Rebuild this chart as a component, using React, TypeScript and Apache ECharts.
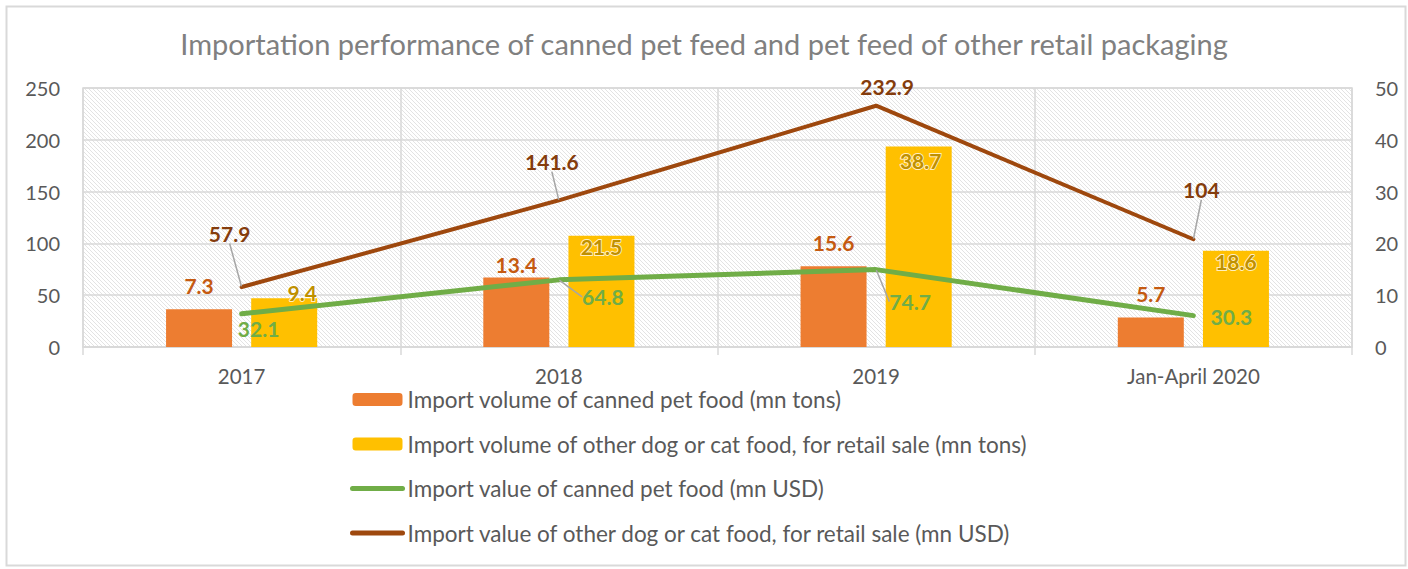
import React, { useEffect, useRef } from "react";
import * as echarts from "echarts";

const categories = ["2017", "2018", "2019", "Jan-April 2020"];
const cannedVolume = [7.3, 13.4, 15.6, 5.7];
const otherVolume = [9.4, 21.5, 38.7, 18.6];
const cannedValue = [32.1, 64.8, 74.7, 30.3];
const otherValue = [57.9, 141.6, 232.9, 104];
const leftTicks = { min: 0, max: 250, interval: 50 };
const rightTicks = { min: 0, max: 50, interval: 10 };

const seriesNames = [
  "Import volume of canned pet food (mn tons)",
  "Import volume of other dog or cat food, for retail sale (mn tons)",
  "Import value of canned pet food (mn USD)",
  "Import value of other dog or cat food, for retail sale (mn USD)",
];

// label nudges (dx, dy) for the line value labels
const otherValueNudge = [
  [-12, -38],
  [-7, -23],
  [11, -3],
  [8, -34],
];
const cannedValueNudge = [
  [17, -1],
  [44, 1],
  [34, 16],
  [38, -15],
];

const FONT = "Lato, 'Noto Sans', sans-serif";

function hatchPattern(): string {
  const c = document.createElement("canvas");
  c.width = 4;
  c.height = 4;
  const ctx = c.getContext("2d")!;
  ctx.fillStyle = "#ffffff";
  ctx.fillRect(0, 0, 4, 4);
  ctx.fillStyle = "#e3e3e3";
  for (let i = 0; i < 4; i++) ctx.fillRect(i, i, 1, 1);
  return c.toDataURL();
}

export default function App() {
  const ref = useRef<HTMLDivElement>(null);

  useEffect(() => {
    if (!ref.current) return;
    const chart = echarts.init(ref.current, null, { renderer: "svg" });

    const option: any = {
      animation: false,
      backgroundColor: "#ffffff",
      textStyle: { fontFamily: FONT },
      title: {
        text: "Importation performance of canned pet feed and pet feed of other retail packaging",
        left: "center",
        top: 24,
        textStyle: { fontFamily: FONT, fontSize: 29, fontWeight: "normal", color: "#808080" },
      },
      graphic: [
        {
          type: "rect",
          left: 4,
          top: 4,
          shape: { width: 1399, height: 559 },
          style: { fill: "none", stroke: "#d9d9d9", lineWidth: 2 },
          silent: true,
        },
      ],
      grid: {
        left: 83,
        right: 56,
        top: 88,
        height: 259,
        show: true,
        borderColor: "#d9d9d9",
        borderWidth: 1.5,
        backgroundColor: { image: hatchPattern(), repeat: "repeat" },
      },
      legend: {
        orient: "vertical",
        left: 345,
        top: 383,
        itemWidth: 50,
        itemHeight: 13,
        itemGap: 21.5,
        textStyle: { fontFamily: FONT, fontSize: 22.5, color: "#595959", lineHeight: 20 },
        data: [
          { name: seriesNames[0] },
          { name: seriesNames[1] },
          {
            name: seriesNames[2],
            itemStyle: { opacity: 0 },
            lineStyle: { width: 5, cap: "round" },
          },
          {
            name: seriesNames[3],
            itemStyle: { opacity: 0 },
            lineStyle: { width: 5, cap: "round" },
          },
        ],
      },
      xAxis: {
        type: "category",
        data: categories,
        axisLine: { lineStyle: { color: "#d9d9d9", width: 1.5 } },
        axisTick: { show: true, length: 8, lineStyle: { color: "#d9d9d9", width: 1.5 } },
        splitLine: { show: true, lineStyle: { color: "#d9d9d9", width: 1.5 } },
        axisLabel: { color: "#595959", fontSize: 20.5, margin: 18, fontFamily: FONT },
      },
      yAxis: [
        {
          type: "value",
          ...leftTicks,
          axisLine: { show: false },
          axisTick: { show: false },
          splitLine: { lineStyle: { color: "#d9d9d9", width: 1.5 } },
          axisLabel: { color: "#595959", fontSize: 20, margin: 23, fontFamily: FONT },
        },
        {
          type: "value",
          ...rightTicks,
          axisLine: { show: false },
          axisTick: { show: false },
          splitLine: { show: false },
          axisLabel: { color: "#595959", fontSize: 20, margin: 23, fontFamily: FONT },
        },
      ],
      series: [
        {
          name: seriesNames[0],
          type: "bar",
          yAxisIndex: 1,
          barWidth: 66,
          barGap: "29%",
          itemStyle: { color: "#ed7d31" },
          label: {
            show: true,
            position: "top",
            distance: 13,
            color: "#c55a11",
            fontWeight: "bold",
            fontSize: 21,
            fontFamily: FONT,
          },
          data: cannedVolume.map((v, i) =>
            i === 1 ? { value: v, label: { offset: [0, 10] } } : v
          ),
        },
        {
          name: seriesNames[1],
          type: "bar",
          yAxisIndex: 1,
          barWidth: 66,
          itemStyle: { color: "#ffc000" },
          label: {
            show: true,
            position: "insideTop",
            distance: 0,
            color: "#bf9000",
            fontWeight: "bold",
            fontSize: 21,
            fontFamily: FONT,
            textBorderColor: "rgba(255,255,255,0.75)",
            textBorderWidth: 2,
          },
          data: otherVolume.map((v, i) =>
            i === 0
              ? { value: v, label: { offset: [18, -16] } }
              : i === 2
              ? { value: v, label: { offset: [2, 3] } }
              : v
          ),
        },
        {
          name: seriesNames[2],
          type: "line",
          yAxisIndex: 0,
          symbol: "circle",
          symbolSize: 1,
          showSymbol: true,
          lineStyle: { color: "#70ad47", width: 5, cap: "round" },
          itemStyle: { color: "#70ad47" },
          label: {
            show: true,
            position: "bottom",
            color: "#70ad47",
            fontWeight: "bold",
            fontSize: 21,
            fontFamily: FONT,
          },
          labelLine: { show: true, lineStyle: { color: "#a6a6a6", width: 1.5 } },
          labelLayout: (p: any) => ({
            dx: cannedValueNudge[p.dataIndex][0],
            dy: cannedValueNudge[p.dataIndex][1],
          }),
          data: cannedValue.map((v, i) =>
            i === 0 || i === 3 ? { value: v, labelLine: { show: false } } : v
          ),
        },
        {
          name: seriesNames[3],
          type: "line",
          yAxisIndex: 0,
          symbol: "circle",
          symbolSize: 1,
          showSymbol: true,
          lineStyle: { color: "#9e480e", width: 4, cap: "round" },
          itemStyle: { color: "#9e480e" },
          label: {
            show: true,
            position: "top",
            color: "#843c0c",
            fontWeight: "bold",
            fontSize: 21,
            fontFamily: FONT,
          },
          labelLine: { show: true, lineStyle: { color: "#a6a6a6", width: 1.5 } },
          labelLayout: (p: any) => ({
            dx: otherValueNudge[p.dataIndex][0],
            dy: otherValueNudge[p.dataIndex][1],
          }),
          data: otherValue.map((v, i) =>
            i === 2 ? { value: v, labelLine: { show: false } } : v
          ),
        },
      ],
    };

    chart.setOption(option);
    return () => chart.dispose();
  }, []);

  return (
    <div
      ref={ref}
      style={{ position: "fixed", left: 0, top: 0, width: 1408, height: 569 }}
    />
  );
}
